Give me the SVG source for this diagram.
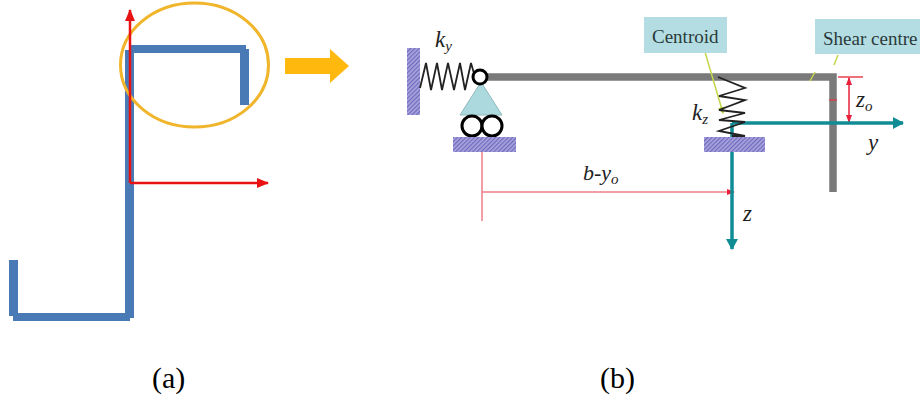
<svg xmlns="http://www.w3.org/2000/svg" width="922" height="403" viewBox="0 0 922 403">
<defs>
<pattern id="hatch" width="3" height="3" patternUnits="userSpaceOnUse" patternTransform="rotate(45)"><rect width="3" height="3" fill="#a8a4dc"/><rect width="1.2" height="3" fill="#6f69c0"/></pattern>
<marker id="red" markerWidth="12" markerHeight="10" refX="11" refY="5" orient="auto" markerUnits="userSpaceOnUse"><path d="M0 0L12 5L0 10Z" fill="#e81212"/></marker>
<marker id="pink" markerWidth="8" markerHeight="8" refX="7" refY="4" orient="auto-start-reverse" markerUnits="userSpaceOnUse"><path d="M0 1L8 4L0 7Z" fill="#e8203a"/></marker>
<marker id="teal" markerWidth="12" markerHeight="12" refX="10" refY="6" orient="auto" markerUnits="userSpaceOnUse"><path d="M0 0L11 6L0 12Z" fill="#0f8c94"/></marker>
<marker id="lime" markerWidth="7" markerHeight="7" refX="6" refY="3.500" orient="auto" markerUnits="userSpaceOnUse"><path d="M0 0L7 3.500L0 7Z" fill="#b5cf3a"/></marker>
</defs>
<style>
text{font-family:"Liberation Serif","Times New Roman",serif;fill:#222}
.i{font-style:italic;font-size:23px}
.s{font-size:15px}
.cap{font-size:30px;fill:#000}
.lab{font-size:19px;fill:#2a3a3a}
.box{fill:#b3dde2}
.bl{fill:#4a7ab5}
.rd{fill:none;stroke:#e81212;stroke-width:2.500}
.gr{fill:none;stroke:#7a7a7a;stroke-width:7.500}
.te{fill:none;stroke:#0f8c94;stroke-width:3.500}
.pk{fill:none;stroke:#ef7d86;stroke-width:1.500}
.sp{fill:none;stroke:#222;stroke-width:1.800}
.ro{fill:#fff;stroke:#000;stroke-width:3}
.ld{fill:none;stroke:#c5d64a;stroke-width:1.500}
</style>
<g id="section-a">
<rect class="bl" x="9" y="260" width="9" height="56"/>
<rect class="bl" x="13" y="313" width="117" height="8"/>
<rect class="bl" x="125" y="50" width="9" height="268"/>
<rect class="bl" x="130" y="45" width="116" height="8"/>
<rect class="bl" x="240" y="49" width="9" height="56"/>
</g>
<g id="highlight"><ellipse cx="194.500" cy="65" rx="74" ry="62" fill="none" stroke="#f0b52b" stroke-width="3"/></g>
<g id="block-arrow"><path d="M285 58H330V49L349 66L330 83V74H285Z" fill="#ffb80d"/></g>
<g id="connectors">
<path class="rd" d="M130 183V10" marker-end="url(#red)"/>
<path class="rd" d="M130 183H268" marker-end="url(#red)"/>
<path class="gr" d="M486 77H833V192"/>
<path class="pk" d="M482 150V221"/>
<path class="pk" d="M482 192H734" marker-end="url(#pink)"/>
<path class="pk" d="M838 77H863" style="stroke:#e8404f"/>
<path class="pk" d="M849 78V122" style="stroke:#e8203a" marker-start="url(#pink)" marker-end="url(#pink)"/>
<path class="pk" d="M829 100H837" style="stroke:#d8404f"/>
<path class="te" d="M732 123H903" marker-end="url(#teal)"/>
<path class="te" d="M732 123V249" marker-end="url(#teal)"/>
<path class="ld" d="M705 52L723 113" marker-end="url(#lime)"/>
<path class="ld" d="M838 55L834 65"/>
<path class="ld" d="M815 72L810 81"/>
</g>
<g id="support-y">
<rect x="407" y="48" width="13" height="67" fill="url(#hatch)"/>
<path class="sp" d="M420 88L426 63L431 90L437 63L442 90L448 63L454 90L460 63L465 90L471 63L475 77"/>
<path d="M481 82L502 115H460Z" fill="#acd9de" stroke="#8fb8bd"/>
<circle class="ro" cx="480" cy="77" r="7"/>
<circle class="ro" cx="472" cy="126" r="10"/>
<circle class="ro" cx="492" cy="126" r="10"/>
<rect x="453" y="137" width="63" height="15" fill="url(#hatch)"/>
</g>
<g id="support-z">
<path class="sp" d="M718 77L745 88L719 96L745 100L719 110L745 113L719 120L745 122L719 131L745 136L732 136"/>
<rect x="704" y="137" width="61" height="15" fill="url(#hatch)"/>
</g>
<g id="centroid"><rect x="644" y="17" width="83" height="36" class="box"/><text class="lab" x="652" y="43">Centroid</text></g>
<g id="shear-centre"><rect x="815" y="19" width="105" height="35" class="box"/><text class="lab" x="823" y="45">Shear centre</text></g>
<g id="labels">
<text class="i" x="435" y="47">k<tspan class="s" dy="4">y</tspan></text>
<text class="i" x="692" y="120">k<tspan class="s" dy="4">z</tspan></text>
<text class="i" x="856" y="107">z<tspan class="s" dy="4">o</tspan></text>
<text class="i" x="868" y="150">y</text>
<text class="i" x="743" y="221">z</text>
<text class="i" x="583" y="180" style="font-size:22px">b-y<tspan class="s" dy="4">o</tspan></text>
<text class="cap" x="152" y="388">(a)</text>
<text class="cap" x="600" y="388">(b)</text>
</g>
</svg>
